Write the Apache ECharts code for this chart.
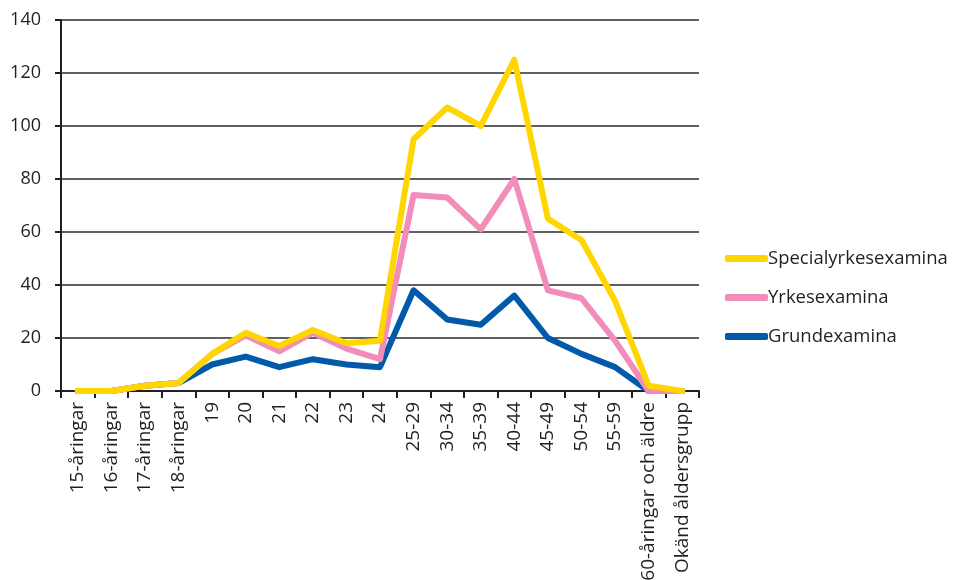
<!DOCTYPE html>
<html>
<head>
<meta charset="utf-8">
<script src="https://cdn.jsdelivr.net/npm/echarts@6/dist/echarts.min.js"></script>
<style>
  html, body { margin: 0; padding: 0; background: #fff; }
  #chart { width: 954px; height: 580px; }
</style>
</head>
<body>
<div id="chart"></div>
<script>
// Age groups along the x axis
const ageGroups = [
  '15-åringar', '16-åringar', '17-åringar', '18-åringar',
  '19', '20', '21', '22', '23', '24',
  '25-29', '30-34', '35-39', '40-44', '45-49', '50-54', '55-59',
  '60-åringar och äldre', 'Okänd åldersgrupp'
];

// Number of degrees per age group
const specialyrkesexamina = [0, 0, 2, 3, 14, 22, 17, 23, 18, 19, 95, 107, 100, 125, 65, 57, 34, 2, 0];
const yrkesexamina        = [0, 0, 2, 3, 14, 21, 15, 22, 16, 12, 74, 73, 61, 80, 38, 35, 19, 0, 0];
const grundexamina        = [0, 0, 2, 3, 10, 13, 9, 12, 10, 9, 38, 27, 25, 36, 20, 14, 9, 0, 0];

const yTicks = { min: 0, max: 140, step: 20 };

const FONT = '"Open Sans", "Noto Sans", sans-serif';
const INK = '#231f20';

function lineSeries(name, data, color) {
  return {
    name: name,
    type: 'line',
    data: data,
    symbol: 'none',
    lineStyle: { width: 6, color: color, cap: 'round', join: 'round' },
    itemStyle: { color: color },
    emphasis: { disabled: true },
    animation: false
  };
}

const chart = echarts.init(document.getElementById('chart'), null, { renderer: 'canvas' });
chart.setOption({
  backgroundColor: '#ffffff',
  animation: false,
  grid: {
    left: 61, right: 255, top: 20, bottom: 189,
    containLabel: false,
    outerBoundsMode: 'none'
  },
  legend: {
    orient: 'vertical',
    left: 720,
    top: 244,
    itemWidth: 43,
    itemHeight: 7,
    itemGap: 20,
    icon: 'roundRect',
    data: ['Specialyrkesexamina', 'Yrkesexamina', 'Grundexamina'],
    textStyle: { fontFamily: FONT, fontSize: 18.5, color: INK, padding: [0, 0, 0, -5] }
  },
  xAxis: {
    type: 'category',
    data: ageGroups,
    boundaryGap: true,
    axisLine: { show: true, lineStyle: { color: INK, width: 2 } },
    axisTick: { show: true, interval: 0, length: 7, lineStyle: { color: INK, width: 2 } },
    axisLabel: {
      interval: 0,
      rotate: 90,
      margin: 11,
      fontFamily: FONT,
      fontSize: 19,
      color: INK
    },
    splitLine: { show: false }
  },
  yAxis: {
    type: 'value',
    min: yTicks.min,
    max: yTicks.max,
    interval: yTicks.step,
    axisLine: { show: true, lineStyle: { color: INK, width: 2 } },
    axisTick: { show: true, length: 6, lineStyle: { color: INK, width: 2 } },
    axisLabel: { margin: 20, fontFamily: FONT, fontSize: 18, color: INK },
    splitLine: { show: true, lineStyle: { color: '#2b2b2b', width: 1.5 } }
  },
  series: [
    lineSeries('Grundexamina', grundexamina, '#0059a9'),
    lineSeries('Yrkesexamina', yrkesexamina, '#f28cb8'),
    lineSeries('Specialyrkesexamina', specialyrkesexamina, '#ffd600')
  ]
});
</script>
</body>
</html>
